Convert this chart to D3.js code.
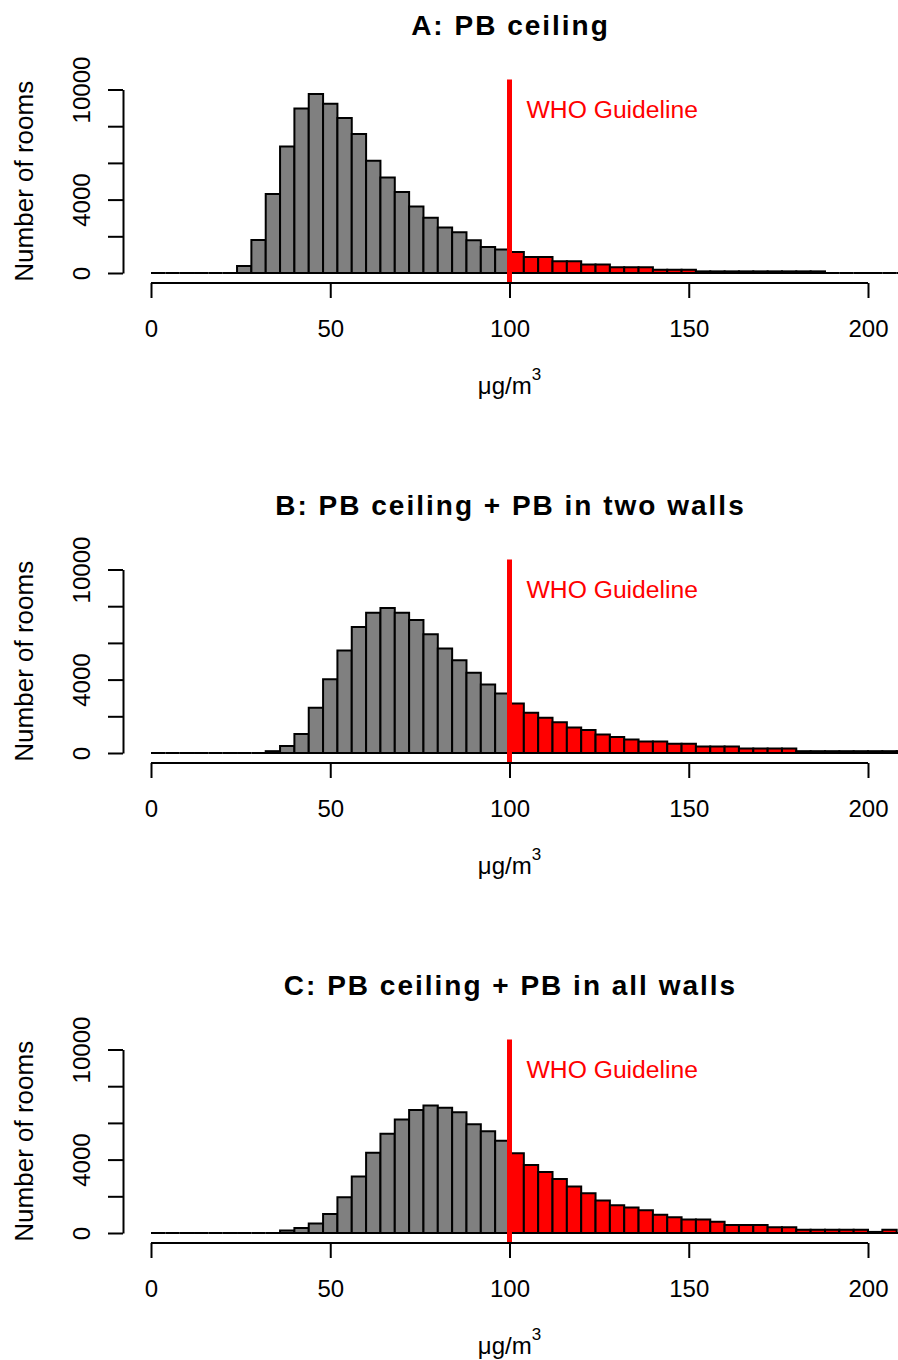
<!DOCTYPE html>
<html>
<head>
<meta charset="utf-8">
<script src="https://cdn.jsdelivr.net/npm/d3@7"></script>
<style>
  body { margin: 0; background: #fff; }
  text { font-family: "Liberation Sans", Arial, Helvetica, sans-serif; }
</style>
</head>
<body>
<svg id="chart" width="898" height="1360"></svg>
<script>
// histogram bins: left edges, width 4 ug/m3
var binWidth = 4;
var binStarts = d3.range( 0, 212, binWidth );
var guideline = 100;

var titles = [
    "A: PB ceiling",
    "B: PB ceiling + PB in two walls",
    "C: PB ceiling + PB in all walls"
];

// counts per bin
var countsA = [
    0, 0, 0, 0, 0, 0, 380, 1800, 4300, 6900, 8960, 9760, 9230, 8450, 7580, 6120,
    5210, 4410, 3620, 3010, 2480, 2220, 1790, 1420, 1280, 1150, 870, 870, 640, 640,
    460, 460, 310, 310, 310, 180, 180, 180, 90, 90, 90, 90, 90, 90, 90, 90, 90,
    0, 0, 0, 0, 0, 0
];
var countsB = [
    0, 0, 0, 0, 0, 0, 0, 0, 100, 380, 1030, 2460, 4020, 5580, 6870, 7640,
    7900, 7640, 7250, 6470, 5690, 5050, 4380, 3730, 3240, 2700, 2190, 1920, 1670, 1390,
    1250, 1010, 870, 740, 620, 620, 510, 510, 360, 360, 360, 240, 240, 240, 240,
    100, 100, 100, 100, 100, 100, 100, 100
];
var countsC = [
    0, 0, 0, 0, 0, 0, 0, 0, 0, 140, 270, 520, 1030, 1950, 3080, 4380,
    5410, 6180, 6700, 6950, 6830, 6580, 5930, 5550, 5030, 4350, 3710, 3320, 2940, 2540,
    2160, 1770, 1510, 1390, 1240, 990, 860, 740, 740, 610, 430, 430, 430, 310, 310,
    180, 180, 180, 180, 180, 60, 180, 0
];
var panels = [ countsA, countsB, countsC ];

var xTicks = [ 0, 50, 100, 150, 200 ];
var yTicks = [ 0, 2000, 4000, 6000, 8000, 10000 ];
var yLabels = [ 0, 4000, 10000 ];

var svg = d3.select( "#chart" );
var panelStep = 480;

var x = d3.scaleLinear().domain( [ 0, 200 ] ).range( [ 151, 868 ] );
var y = d3.scaleLinear().domain( [ 0, 10000 ] ).range( [ 273, 89.5 ] );

panels.forEach( function( counts, i ) {
    var g = svg.append( "g" )
        .attr( "transform", "translate(0," + ( i * panelStep ) + ")" );

    var bins = binStarts.map( function( x0, j ) {
        return { x0: x0, x1: x0 + binWidth, n: counts[ j ] };
    } );

    // bars as closed paths so empty bins still show as a line
    g.append( "g" ).selectAll( "path" )
        .data( bins )
        .join( "path" )
        .attr( "d", function( d ) {
            var p = d3.path();
            p.moveTo( x( d.x0 ), y( 0 ) );
            p.lineTo( x( d.x0 ), y( d.n ) );
            p.lineTo( x( d.x1 ), y( d.n ) );
            p.lineTo( x( d.x1 ), y( 0 ) );
            p.closePath();
            return p.toString();
        } )
        .attr( "fill", function( d ) { return d.x0 >= guideline ? "#ff0000" : "#808080"; } )
        .attr( "stroke", "#000" )
        .attr( "stroke-width", 2 );

    // guideline
    g.append( "line" )
        .attr( "x1", x( guideline ) )
        .attr( "x2", x( guideline ) )
        .attr( "y1", y( 10550 ) )
        .attr( "y2", y( -600 ) )
        .attr( "stroke", "#ff0000" )
        .attr( "stroke-width", 5 );

    g.append( "text" )
        .attr( "x", x( guideline ) + 17 )
        .attr( "y", 118 )
        .attr( "font-size", 24.7 )
        .attr( "fill", "#ff0000" )
        .text( "WHO Guideline" );

    // x axis
    var xAxis = g.append( "g" )
        .attr( "transform", "translate(0,283)" )
        .call( d3.axisBottom( x ).tickValues( xTicks ).tickSize( 15 ).tickPadding( 22 ) );
    xAxis.select( ".domain" ).remove();
    xAxis.append( "line" )
        .attr( "x1", x( 0 ) )
        .attr( "x2", x( 200 ) )
        .attr( "stroke", "#000" )
        .attr( "stroke-width", 2 );
    xAxis.selectAll( ".tick line" ).attr( "stroke-width", 2 );
    xAxis.selectAll( ".tick text" )
        .attr( "font-size", 24 )
        .attr( "fill", "#000" )
        .attr( "font-family", null );

    // y axis
    var yAxis = g.append( "g" )
        .attr( "transform", "translate(123,0)" )
        .call( d3.axisLeft( y ).tickValues( yTicks ).tickSize( 15 ).tickSizeOuter( 0 )
            .tickFormat( function( d ) { return yLabels.indexOf( d ) >= 0 ? d : ""; } ) );
    yAxis.select( ".domain" ).attr( "stroke-width", 2 );
    yAxis.selectAll( ".tick line" ).attr( "stroke-width", 2 );
    yAxis.selectAll( ".tick text" )
        .attr( "font-size", 24 )
        .attr( "fill", "#000" )
        .attr( "font-family", null )
        .attr( "x", null )
        .attr( "dy", null )
        .attr( "text-anchor", "middle" )
        .attr( "transform", "translate(-33,0) rotate(-90)" );

    // labels
    g.append( "text" )
        .attr( "transform", "translate(33," + ( ( y( 0 ) + y( 10000 ) ) / 2 ) + ") rotate(-90)" )
        .attr( "text-anchor", "middle" )
        .attr( "font-size", 26 )
        .text( "Number of rooms" );

    var xl = g.append( "text" )
        .attr( "x", x( 100 ) )
        .attr( "y", 394 )
        .attr( "text-anchor", "middle" )
        .attr( "font-size", 24 );
    xl.append( "tspan" ).text( "\u03bcg/m" );
    xl.append( "tspan" ).attr( "font-size", 17 ).attr( "dy", -14 ).text( "3" );

    g.append( "text" )
        .attr( "x", x( 100 ) + 1 )
        .attr( "y", 35 )
        .attr( "text-anchor", "middle" )
        .attr( "font-size", 28 )
        .attr( "font-weight", "bold" )
        .attr( "letter-spacing", 2 )
        .text( titles[ i ] );
} );
</script>
</body>
</html>
